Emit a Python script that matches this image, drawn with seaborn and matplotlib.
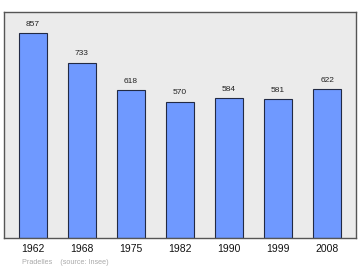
import matplotlib
matplotlib.use("Agg")
import matplotlib.pyplot as plt
import seaborn as sns
import pandas as pd

years = ["1962", "1968", "1975", "1982", "1990", "1999", "2008"]
population = [857, 733, 618, 570, 584, 581, 622]

df = pd.DataFrame({"year": years, "pop": population})

sns.set_style("white")
plt.rcParams['font.family'] = ['Liberation Sans', 'DejaVu Sans']

fig = plt.figure(figsize=(3.6, 2.7), dpi=100)
ax = fig.add_axes([4/360, 1 - 238/270, 352/360, 226/270])
ax.set_facecolor("#ebebeb")

sns.barplot(data=df, x="year", y="pop", ax=ax, color="#6f99ff", saturation=1,
            width=0.58, edgecolor="#222a44", linewidth=0.8)

for i, v in enumerate(population):
    ax.text(i, v + 22, str(v), ha="center", va="bottom", fontsize=6, color="#222222")

ax.set_xlim(-0.59, 6.59)
ax.set_ylim(0, 945)
ax.set_xlabel("")
ax.set_ylabel("")
ax.set_yticks([])
ax.tick_params(axis="x", length=0, labelsize=7.5, pad=4, colors="#111111")
for s in ax.spines.values():
    s.set_color("#555555")
    s.set_linewidth(1)

fig.text(22/360, 1 - 263/270, "Pradelles    (source: Insee)", fontsize=5.2, color="#aaaaaa",
         ha="left", va="center")

fig.savefig("out.png", dpi=100)
